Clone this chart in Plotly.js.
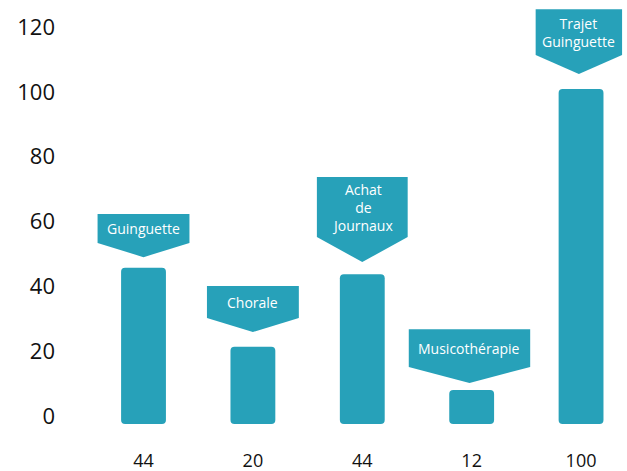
<!DOCTYPE html>
<html>
<head>
<meta charset="utf-8">
<script src="https://cdn.plot.ly/plotly-3.0.1.min.js"></script>
<style>html,body{margin:0;padding:0;background:#fff;}#chart{width:627px;height:471px;}</style>
</head>
<body>
<div id="chart"></div>
<script>
// ---- data ----
var categories = ["Guinguette", "Chorale", "Achat<br>de<br>Journaux", "Musicothérapie", "Trajet<br>Guinguette"];
var tickLabels = ["44", "20", "44", "12", "100"];
var barTops = [45.7, 21.4, 43.7, 8.0, 100.9];
var yTicks = [0, 20, 40, 60, 80, 100, 120];

// ---- styling / geometry ----
var teal = "#27a1b9";
var barBase = -2.5;
var xs = categories.map(function (_, i) { return i; });

// callout geometry in data units
var callouts = [
  {dx: 0.0,   hw: 0.42, top: 62.3,  body: 53.4,  tip: 49.0},
  {dx: 0.0,   hw: 0.42, top: 40.1,  body: 30.2,  tip: 25.9},
  {dx: 0.0,   hw: 0.415, top: 73.7, body: 55.2,  tip: 47.5},
  {dx: -0.02, hw: 0.555, top: 26.8, body: 15.1,  tip: 10.2},
  {dx: -0.02, hw: 0.395, top: 125.5, body: 111.4, tip: 105.5}
];

var shapes = [], annotations = [];
callouts.forEach(function (c, i) {
  var cx = xs[i] + c.dx;
  var l = cx - c.hw, r = cx + c.hw;
  var path = "M " + l + "," + c.top + " L " + r + "," + c.top +
             " L " + r + "," + c.body + " L " + cx + "," + c.tip +
             " L " + l + "," + c.body + " Z";
  shapes.push({type: "path", xref: "x", yref: "y", path: path,
               fillcolor: teal, line: {width: 0}, layer: "above"});
  annotations.push({x: cx, y: (c.top + c.body) / 2, xref: "x", yref: "y",
                    text: categories[i], showarrow: false,
                    font: {family: "Open Sans", size: 14, color: "#ffffff"},
                    align: "center", xanchor: "center", yanchor: "middle"});
});

var trace = {
  type: "bar",
  x: xs,
  y: barTops.map(function (v) { return v - barBase; }),
  base: barBase,
  width: 0.41,
  marker: {color: teal, cornerradius: 4, line: {width: 0}},
  hoverinfo: "skip"
};

var layout = {
  width: 627, height: 471,
  margin: {l: 56, r: 0, t: 0, b: 23},
  paper_bgcolor: "#ffffff", plot_bgcolor: "#ffffff",
  showlegend: false,
  font: {family: "Open Sans", color: "#111111"},
  xaxis: {
    range: [-0.80, 4.42],
    tickmode: "array", tickvals: xs, ticktext: tickLabels,
    showgrid: false, zeroline: false, showline: false, ticks: "",
    tickfont: {size: 18, color: "#111111"}
  },
  yaxis: {
    range: [-9.87, 128.33],
    tickmode: "array", tickvals: yTicks,
    showgrid: false, zeroline: false, showline: false, ticks: "",
    tickfont: {size: 22, color: "#111111"}
  },
  shapes: shapes,
  annotations: annotations
};

Plotly.newPlot("chart", [trace], layout, {displayModeBar: false, staticPlot: true});
</script>
</body>
</html>
